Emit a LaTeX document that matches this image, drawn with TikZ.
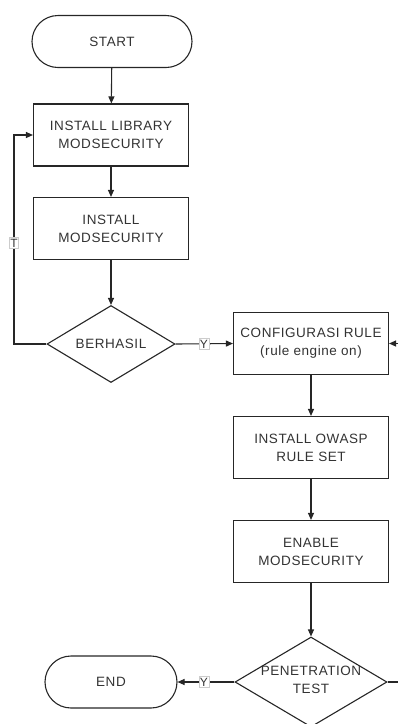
\documentclass[tikz,border=0pt]{standalone}
\usepackage{fontspec}
\setmainfont{Liberation Sans}[LetterSpace=4]
\newfontfamily\lblfont{Liberation Sans}
\usetikzlibrary{arrows.meta,shapes.geometric}
\begin{document}
\begin{tikzpicture}[x=1pt,y=-1pt,
  every node/.style={font=\fontsize{13.5}{18}\selectfont, text=black!80},
  ln/.style={line width=1.1pt, draw=black!85},
  arr/.style={ln, -{Triangle[length=7pt,width=6pt]}},
  term/.style={ln, minimum width=#1, minimum height=52, rounded corners=26pt, inner sep=0},
  proc/.style={ln, minimum width=155, minimum height=62, align=center, inner sep=0},
  dec/.style={ln, diamond, inner sep=0},
  lbl/.style={font=\lblfont\fontsize{12}{13}\selectfont, fill=white, draw=black!20, line width=0.4pt, inner sep=1pt, minimum width=9pt, minimum height=11pt}
]
\useasboundingbox (0,0) rectangle (398,724);
\clip (0,0) rectangle (398,724);
\node[term=160, draw] (start) at (112,41.5) {START};
\node[proc, draw] (lib) at (111,135) {INSTALL LIBRARY\\MODSECURITY};
\node[proc, draw] (ins) at (111,228.5) {INSTALL\\MODSECURITY};
\node[dec, draw, minimum width=128, minimum height=77] (ber) at (111,344) {};
\node (bertext) at (111,344) {BERHASIL};
\node[proc, draw] (cfg) at (311,343.5) {CONFIGURASI RULE\\(rule engine on)};
\node[proc, draw] (owasp) at (311,447.5) {INSTALL OWASP\\RULE SET};
\node[proc, draw] (en) at (311,551.5) {ENABLE\\MODSECURITY};
\node[dec, draw, minimum width=152, minimum height=90] (pt) at (311,682) {};
\node[align=center] (pttext) at (311,680) {PENETRATION\\TEST};
\node[term=132, draw] (end) at (111,682) {END};
\coordinate (tl1) at (14,344);
\coordinate (tl2) at (14,135);
\coordinate (rl1) at (410,682);
\coordinate (rl2) at (410,343.5);
\draw[arr] (start) -- (lib);
\draw[arr] (lib) -- (ins);
\draw[arr] (ins) -- (ber);
\draw[arr] (ber.west) -- (tl1) -- (tl2) -- (lib.west);
\draw[arr] (ber.east) -- (cfg.west);
\draw[arr] (cfg) -- (owasp);
\draw[arr] (owasp) -- (en);
\draw[arr] (en) -- (pt);
\draw[arr] (pt.west) -- (end.east);
\draw[arr] (pt.east) -- (rl1) -- (rl2) -- (cfg.east);
\node[lbl] (t1) at (14,243) {T};
\node[lbl] (y1) at (204,344) {Y};
\node[lbl] (y2) at (204,682) {Y};
\end{tikzpicture}
\end{document}
